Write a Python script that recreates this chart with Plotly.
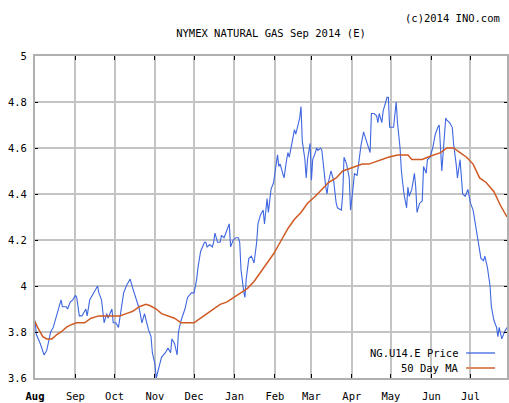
import plotly.graph_objects as go

# ---- data ----
price_dates = [
    "2013-08-01","2013-08-02","2013-08-05","2013-08-08","2013-08-10","2013-08-12","2013-08-13","2013-08-15",
    "2013-08-16","2013-08-19","2013-08-21","2013-08-22","2013-08-25","2013-08-26","2013-08-28","2013-08-30",
    "2013-09-01","2013-09-02","2013-09-04","2013-09-06","2013-09-09","2013-09-10","2013-09-12","2013-09-15",
    "2013-09-18","2013-09-19","2013-09-21","2013-09-23","2013-09-25","2013-09-26","2013-09-29","2013-09-30",
    "2013-10-02","2013-10-04","2013-10-06","2013-10-08","2013-10-10","2013-10-13","2013-10-15","2013-10-18",
    "2013-10-20","2013-10-22","2013-10-24","2013-10-27","2013-10-29","2013-10-30","2013-11-01","2013-11-02",
    "2013-11-04","2013-11-06","2013-11-09","2013-11-11","2013-11-13","2013-11-14","2013-11-16","2013-11-18",
    "2013-11-19","2013-11-21","2013-11-24","2013-11-26","2013-11-29","2013-12-01","2013-12-03","2013-12-04",
    "2013-12-06","2013-12-09","2013-12-10","2013-12-11","2013-12-13","2013-12-15","2013-12-16","2013-12-17",
    "2013-12-19","2013-12-21","2013-12-22","2013-12-24","2013-12-26","2013-12-28","2013-12-29","2013-12-31",
    "2014-01-02","2014-01-04","2014-01-05","2014-01-06","2014-01-08","2014-01-09","2014-01-10","2014-01-12",
    "2014-01-14","2014-01-16","2014-01-18","2014-01-19","2014-01-21","2014-01-23","2014-01-24","2014-01-26",
    "2014-01-27","2014-01-29","2014-01-31","2014-02-03","2014-02-04","2014-02-05","2014-02-07","2014-02-08",
    "2014-02-10","2014-02-11","2014-02-12","2014-02-14","2014-02-16","2014-02-17","2014-02-18","2014-02-20",
    "2014-02-21","2014-02-22","2014-02-24","2014-02-25","2014-02-26","2014-02-28","2014-03-01","2014-03-02",
    "2014-03-04","2014-03-05","2014-03-06","2014-03-08","2014-03-09","2014-03-10","2014-03-12","2014-03-13",
    "2014-03-14","2014-03-16","2014-03-18","2014-03-20","2014-03-21","2014-03-24","2014-03-25","2014-03-26",
    "2014-03-28","2014-03-30","2014-03-31","2014-04-02","2014-04-03","2014-04-05","2014-04-06","2014-04-08",
    "2014-04-10","2014-04-12","2014-04-14","2014-04-15","2014-04-16","2014-04-18","2014-04-20","2014-04-21",
    "2014-04-22","2014-04-24","2014-04-25","2014-04-27","2014-04-28","2014-04-29","2014-04-30","2014-05-01",
    "2014-05-03","2014-05-05","2014-05-06","2014-05-08","2014-05-09","2014-05-11","2014-05-13","2014-05-14",
    "2014-05-15","2014-05-17","2014-05-19","2014-05-20","2014-05-21","2014-05-23","2014-05-25","2014-05-26",
    "2014-05-28","2014-05-29","2014-05-31","2014-06-02","2014-06-04","2014-06-06","2014-06-07","2014-06-09",
    "2014-06-10","2014-06-12","2014-06-13","2014-06-15","2014-06-17","2014-06-18","2014-06-20","2014-06-21",
    "2014-06-23","2014-06-24","2014-06-25","2014-06-27","2014-06-29","2014-07-01","2014-07-03","2014-07-05",
    "2014-07-07","2014-07-09","2014-07-11","2014-07-12","2014-07-14","2014-07-16","2014-07-17","2014-07-19",
    "2014-07-21","2014-07-22","2014-07-23","2014-07-25","2014-07-27","2014-07-29",
]
price_values = [
    3.85,3.79,3.75,3.70,3.72,3.77,3.80,3.82,
    3.84,3.89,3.94,3.91,3.91,3.90,3.93,3.94,
    3.96,3.95,3.87,3.87,3.90,3.87,3.94,3.97,
    4.00,3.97,3.94,3.84,3.88,3.86,3.90,3.84,
    3.84,3.82,3.90,3.97,4.00,4.03,3.99,3.94,
    3.90,3.84,3.88,3.81,3.78,3.71,3.66,3.60,
    3.65,3.69,3.71,3.73,3.71,3.77,3.75,3.70,
    3.80,3.85,3.90,3.95,3.97,3.97,4.03,4.08,
    4.15,4.19,4.19,4.17,4.18,4.17,4.19,4.23,
    4.19,4.19,4.22,4.21,4.24,4.27,4.17,4.20,
    4.21,4.21,4.19,4.07,3.98,3.95,4.03,4.12,
    4.13,4.10,4.19,4.27,4.31,4.33,4.27,4.38,
    4.32,4.42,4.45,4.57,4.52,4.53,4.49,4.47,
    4.55,4.58,4.56,4.62,4.68,4.66,4.68,4.73,
    4.78,4.63,4.55,4.47,4.55,4.62,4.46,4.55,
    4.58,4.60,4.59,4.60,4.59,4.53,4.43,4.40,
    4.45,4.50,4.46,4.36,4.34,4.33,4.40,4.56,
    4.53,4.47,4.33,4.43,4.49,4.48,4.53,4.61,
    4.67,4.63,4.60,4.58,4.75,4.75,4.74,4.71,
    4.75,4.71,4.76,4.80,4.82,4.82,4.69,4.69,
    4.69,4.80,4.71,4.60,4.50,4.40,4.34,4.43,
    4.39,4.42,4.49,4.43,4.32,4.36,4.37,4.52,
    4.49,4.55,4.56,4.60,4.66,4.69,4.70,4.50,
    4.59,4.73,4.72,4.71,4.69,4.62,4.53,4.47,
    4.55,4.46,4.40,4.39,4.42,4.36,4.33,4.26,
    4.19,4.12,4.11,4.13,4.08,4.00,3.91,3.85,
    3.82,3.78,3.82,3.77,3.80,3.82,
]

ma_dates = [
    "2013-08-01","2013-08-03","2013-08-07","2013-08-10","2013-08-14","2013-08-18","2013-08-21","2013-08-25",
    "2013-08-28","2013-09-02","2013-09-08","2013-09-13","2013-09-19","2013-09-24","2013-09-29","2013-10-05",
    "2013-10-10","2013-10-15","2013-10-20","2013-10-25","2013-10-28","2013-11-02","2013-11-06","2013-11-11",
    "2013-11-16","2013-11-21","2013-11-26","2013-12-01","2013-12-06","2013-12-11","2013-12-16","2013-12-21",
    "2013-12-26","2013-12-31","2014-01-06","2014-01-11","2014-01-16","2014-01-21","2014-01-26","2014-01-31",
    "2014-02-06","2014-02-11","2014-02-16","2014-02-21","2014-02-26","2014-03-04","2014-03-09","2014-03-14",
    "2014-03-20","2014-03-25","2014-03-30","2014-04-04","2014-04-09","2014-04-14","2014-04-19","2014-04-24",
    "2014-04-29","2014-05-06","2014-05-10","2014-05-14","2014-05-17","2014-05-21","2014-05-25","2014-05-29",
    "2014-06-03","2014-06-08","2014-06-13","2014-06-18","2014-06-23","2014-06-28","2014-07-03","2014-07-08",
    "2014-07-13","2014-07-19","2014-07-24","2014-07-29",
]
ma_values = [
    3.845,3.82,3.78,3.77,3.77,3.79,3.80,3.82,
    3.83,3.84,3.84,3.86,3.87,3.87,3.87,3.87,
    3.88,3.89,3.91,3.92,3.915,3.90,3.88,3.87,
    3.86,3.84,3.84,3.84,3.86,3.88,3.90,3.92,
    3.93,3.95,3.97,3.99,4.02,4.06,4.10,4.14,
    4.20,4.25,4.29,4.32,4.36,4.39,4.42,4.45,
    4.47,4.50,4.51,4.52,4.53,4.53,4.54,4.55,
    4.56,4.57,4.57,4.57,4.55,4.55,4.55,4.56,
    4.57,4.58,4.60,4.60,4.58,4.56,4.53,4.47,
    4.45,4.41,4.35,4.30,
]

month_ticks = ["2013-08-01","2013-09-01","2013-10-01","2013-11-01","2013-12-01","2014-01-01",
               "2014-02-01","2014-03-01","2014-04-01","2014-05-01","2014-06-01","2014-07-01"]
month_labels = ["Aug","Sep","Oct","Nov","Dec","Jan","Feb","Mar","Apr","May","Jun","Jul"]
y_ticks = [3.6, 3.8, 4.0, 4.2, 4.4, 4.6, 4.8, 5.0]
y_labels = ["3.6", "3.8", "4", "4.2", "4.4", "4.6", "4.8", "5"]

title_text = "NYMEX NATURAL GAS Sep 2014 (E)"
credit_text = "(c)2014 INO.com"
series_names = ["NG.U14.E Price", "50 Day MA"]

# ---- styling ----
FONT = "DejaVu Sans Mono"
BLUE = "#3f67e0"
ORANGE = "#cf5a22"
GRID = "#c4c4c4"
W, H = 509, 403
# plot area in window pixels: x 35..509, y 56..378
ML, MR, MT, MB = 35, 0, 56, H - 378
PW, PH = W - ML - MR, H - MT - MB

def px_x(x):                 # window pixel -> paper x
    return (x - ML) / PW

def px_y(y):                 # window pixel -> paper y
    return (H - MB - y) / PH

# the first month label is drawn heavier in the reference (overprinted)
tick_text = ["<b>" + m + "</b>" if i == 0 else m for i, m in enumerate(month_labels)]

fig = go.Figure()
fig.add_trace(go.Scatter(x=price_dates, y=price_values, mode="lines", name=series_names[0],
                         line=dict(color=BLUE, width=1.1), showlegend=False))
fig.add_trace(go.Scatter(x=ma_dates, y=ma_values, mode="lines", name=series_names[1],
                         line=dict(color=ORANGE, width=1.5), showlegend=False))

shapes = [
    dict(type="rect", xref="paper", yref="paper", x0=px_x(358), x1=1.0, y0=px_y(376), y1=px_y(341),
         fillcolor="white", line=dict(width=0), layer="between"),
    dict(type="line", xref="paper", yref="paper", x0=px_x(468), x1=px_x(497), y0=px_y(353), y1=px_y(353),
         line=dict(color=BLUE, width=1.3)),
    dict(type="line", xref="paper", yref="paper", x0=px_x(468), x1=px_x(497), y0=px_y(368), y1=px_y(368),
         line=dict(color="#d98a62", width=2)),
]
annotations = [
    dict(text=credit_text, xref="paper", yref="paper", x=px_x(504), y=px_y(18), xanchor="right",
         yanchor="middle", showarrow=False, font=dict(family=FONT, size=10.5, color="#000")),
    dict(text=series_names[0], xref="paper", yref="paper", x=px_x(463), y=px_y(353), xanchor="right",
         yanchor="middle", showarrow=False, font=dict(family=FONT, size=10.5, color="#000")),
    dict(text=series_names[1], xref="paper", yref="paper", x=px_x(463), y=px_y(368), xanchor="right",
         yanchor="middle", showarrow=False, font=dict(family=FONT, size=10.5, color="#000")),
]

fig.update_layout(
    width=W, height=H,
    margin=dict(l=ML, r=MR, t=MT, b=MB, pad=0),
    paper_bgcolor="white", plot_bgcolor="white",
    font=dict(family=FONT, size=10.5, color="#000"),
    title=dict(text=title_text, x=0.5, xref="paper", xanchor="center",
               y=1 - 33 / H, yref="container", yanchor="middle",
               font=dict(family=FONT, size=10.5, color="#000")),
    shapes=shapes, annotations=annotations,
)
fig.update_xaxes(
    range=["2013-08-01", "2014-07-29"], tickmode="array", tickvals=month_ticks, ticktext=tick_text,
    showgrid=True, gridcolor=GRID, gridwidth=1.5,
    showline=True, linecolor="#b0b0b0", linewidth=1.5, mirror="ticks",
    ticks="inside", ticklen=4, tickcolor="#000", tickwidth=1, ticklabelstandoff=8,
    zeroline=False, fixedrange=True,
)
fig.update_yaxes(
    range=[3.6, 5.0], tickmode="array", tickvals=y_ticks, ticktext=y_labels,
    showgrid=True, gridcolor=GRID, gridwidth=1.5,
    showline=True, linecolor="#b0b0b0", linewidth=2, mirror="ticks",
    ticks="inside", ticklen=3, tickcolor="#000", tickwidth=1, ticklabelstandoff=4,
    zeroline=False, fixedrange=True,
)

# remove the page's default body margin so the figure sits at the window's top-left corner
fig.write_html("out.html", config={"displayModeBar": False},
               post_script="document.body.style.margin='0';document.body.style.overflow='hidden';")
